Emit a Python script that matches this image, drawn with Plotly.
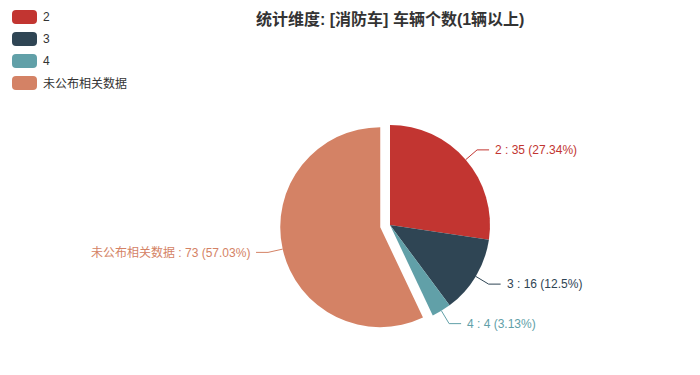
import math
import plotly.graph_objects as go

# ---- data ----
categories = ["2", "3", "4", "未公布相关数据"]
values = [35, 16, 4, 73]
colors = ["#c23531", "#2f4554", "#61a0a8", "#d48265"]
pulls = [0, 0, 0, 0.1]
title_text = "统计维度: [消防车] 车辆个数(1辆以上)"

W, H = 700, 375
CX, CY, R = 390, 225, 100
FONT = "Liberation Sans, Noto Sans CJK SC, sans-serif"


def px(x):
    return x / W


def py(y):
    return 1 - y / H


def percents(vals, precision=2):
    # largest remainder method (as in ECharts)
    total = sum(vals)
    digits = 10 ** precision
    target = 100 * digits
    raw = [v / total * target for v in vals]
    seats = [math.floor(r) for r in raw]
    rem = [r - s for r, s in zip(raw, seats)]
    left = target - sum(seats)
    while left > 0:
        i = max(range(len(rem)), key=lambda k: rem[k])
        seats[i] += 1
        rem[i] = -1
        left -= 1
    return [s / digits for s in seats]


maxpull = max(pulls)
half = R * (1 + maxpull)

fig = go.Figure(
    go.Pie(
        labels=categories,
        values=values,
        marker=dict(colors=colors, line=dict(width=0)),
        pull=pulls,
        sort=False,
        direction="clockwise",
        rotation=0,
        textinfo="none",
        hoverinfo="label+value+percent",
        showlegend=False,
        domain=dict(x=[px(CX - half), px(CX + half)], y=[py(CY + half), py(CY - half)]),
    )
)

shapes = []
annotations = []

# labels with leader lines
total = sum(values)
pcts = percents(values)
cum = 0
L1, L2, GAP = 15, 12, 4
for name, v, c, pl, p in zip(categories, values, colors, pulls, pcts):
    mid = (cum + v / 2) / total * 2 * math.pi
    cum += v
    dx, dy = math.sin(mid), -math.cos(mid)
    ox, oy = CX + dx * pl * R, CY + dy * pl * R
    x0, y0 = ox + dx * R, oy + dy * R
    x1, y1 = ox + dx * (R + L1), oy + dy * (R + L1)
    side = 1 if dx >= 0 else -1
    x2 = x1 + side * L2
    path = f"M {px(x0)} {py(y0)} L {px(x1)} {py(y1)} L {px(x2)} {py(y1)}"
    shapes.append(dict(type="path", xref="paper", yref="paper", path=path,
                       line=dict(color=c, width=1)))
    pct_txt = f"{p:g}"
    annotations.append(dict(
        x=px(x2 + side * GAP), y=py(y1), xref="paper", yref="paper",
        text=f"{name} : {v} ({pct_txt}%)", showarrow=False,
        xanchor="left" if side > 0 else "right", yanchor="middle",
        font=dict(family=FONT, size=12, color=c),
    ))

# custom legend with rounded icons
LX, LY0, LW, LH, LSTEP, RAD = 12, 10, 25, 14, 22, 4
for i, (name, c) in enumerate(zip(categories, colors)):
    x0, y0 = LX, LY0 + i * LSTEP
    x1, y1 = x0 + LW, y0 + LH
    pts = [
        ("M", x0 + RAD, y0), ("L", x1 - RAD, y0), ("Q", x1, y0, x1, y0 + RAD),
        ("L", x1, y1 - RAD), ("Q", x1, y1, x1 - RAD, y1), ("L", x0 + RAD, y1),
        ("Q", x0, y1, x0, y1 - RAD), ("L", x0, y0 + RAD), ("Q", x0, y0, x0 + RAD, y0),
    ]
    segs = []
    for seg in pts:
        cmd = seg[0]
        coords = seg[1:]
        s = cmd
        for k in range(0, len(coords), 2):
            s += f" {px(coords[k])} {py(coords[k + 1])}"
        segs.append(s)
    shapes.append(dict(type="path", xref="paper", yref="paper", path=" ".join(segs) + " Z",
                       fillcolor=c, line=dict(width=0)))
    annotations.append(dict(
        x=px(x1 + 4), y=py((y0 + y1) / 2), xref="paper", yref="paper",
        text=name, showarrow=False, xanchor="left", yanchor="middle",
        font=dict(family=FONT, size=12, color="#333333"),
    ))

# title
annotations.append(dict(
    x=px(390), y=py(19), xref="paper", yref="paper",
    text=f"<b>{title_text}</b>", showarrow=False, xanchor="center", yanchor="middle",
    font=dict(family=FONT, size=16, color="#333333"),
))

fig.update_layout(
    width=W, height=H,
    margin=dict(l=0, r=0, t=0, b=0),
    paper_bgcolor="white", plot_bgcolor="white",
    shapes=shapes, annotations=annotations,
)

fig.write_html(
    "out.html",
    config={"displayModeBar": False},
    post_script="document.body.style.margin='0';document.body.style.overflow='hidden';",
)
